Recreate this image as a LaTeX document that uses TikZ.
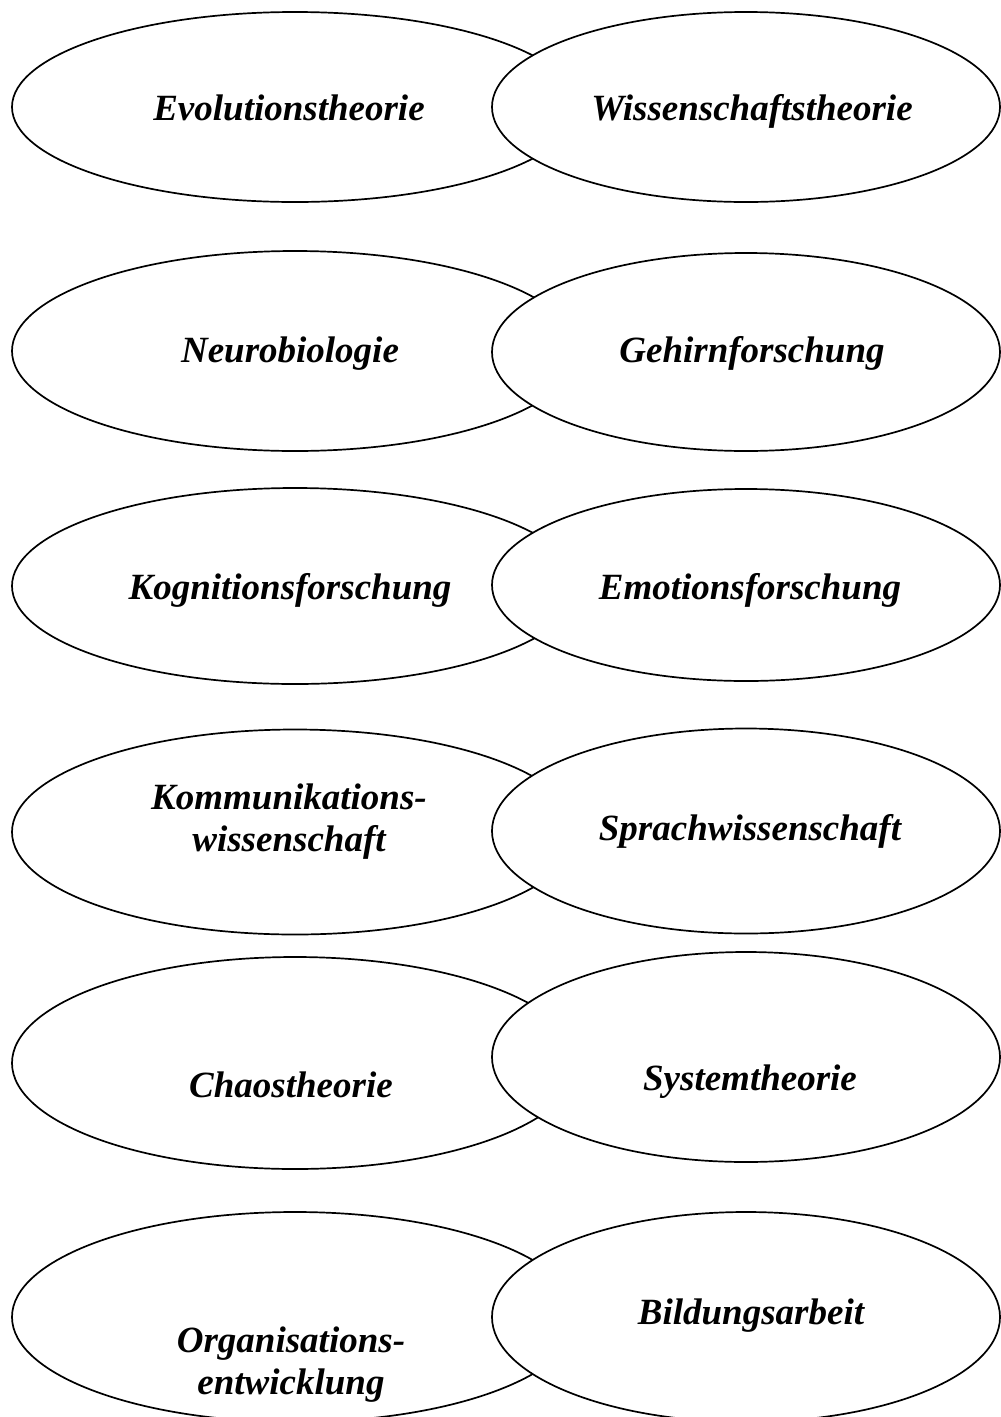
\documentclass[tikz,border=0pt]{standalone}
\usepackage{fontspec}
\setmainfont{Liberation Serif}
\usetikzlibrary{shapes.geometric}

\tikzset{
  oval/.style={ellipse, draw=black, fill=white, line width=1.7pt, inner sep=0pt},
  leftoval/.style={oval, minimum width=566pt},
  rightoval/.style={oval, minimum width=508pt},
  topic/.style={font=\fontsize{37}{42}\selectfont\bfseries\itshape, align=center, inner sep=0pt},
  word/.style={topic, anchor=base}
}

\begin{document}
\begin{tikzpicture}[x=1pt, y=-1pt]
  \useasboundingbox (0,0) rectangle (1001,1417);

  % row 1
  \node[leftoval,  minimum height=190pt] (l1) at (295,107) {};
  \node[rightoval, minimum height=190pt] (r1) at (746,107) {};
  \node[word] (t1a) at (289,120) {Evolutionstheorie};
  \node[word] (t1b) at (752,120) {Wissenschaftstheorie};

  % row 2
  \node[leftoval,  minimum height=200pt] (l2) at (295,351) {};
  \node[rightoval, minimum height=198pt] (r2) at (746,352) {};
  \node[word] (t2a) at (290,362) {Neurobiologie};
  \node[word] (t2b) at (752,362) {Gehirnforschung};

  % row 3
  \node[leftoval,  minimum height=196pt] (l3) at (295,586) {};
  \node[rightoval, minimum height=192pt] (r3) at (746,585) {};
  \node[word] (t3a) at (290,599) {Kognitionsforschung};
  \node[word] (t3b) at (750,599) {Emotionsforschung};

  % row 4
  \node[leftoval,  minimum height=205pt] (l4) at (295,832) {};
  \node[rightoval, minimum height=205pt] (r4) at (746,831) {};
  \node[topic] (t4a) at (289,822) {Kommunikations-\\wissenschaft};
  \node[word] (t4b) at (750,840) {Sprachwissenschaft};

  % row 5
  \node[leftoval,  minimum height=212pt] (l5) at (295,1063) {};
  \node[rightoval, minimum height=210pt] (r5) at (746,1057) {};
  \node[word] (t5a) at (291,1097) {Chaostheorie};
  \node[word] (t5b) at (750,1090) {Systemtheorie};

  % row 6
  \node[leftoval,  minimum height=210pt] (l6) at (295,1317) {};
  \node[rightoval, minimum height=210pt] (r6) at (746,1317) {};
  \node[topic] (t6a) at (291,1365) {Organisations-\\entwicklung};
  \node[word] (t6b) at (751,1324) {Bildungsarbeit};
\end{tikzpicture}
\end{document}
